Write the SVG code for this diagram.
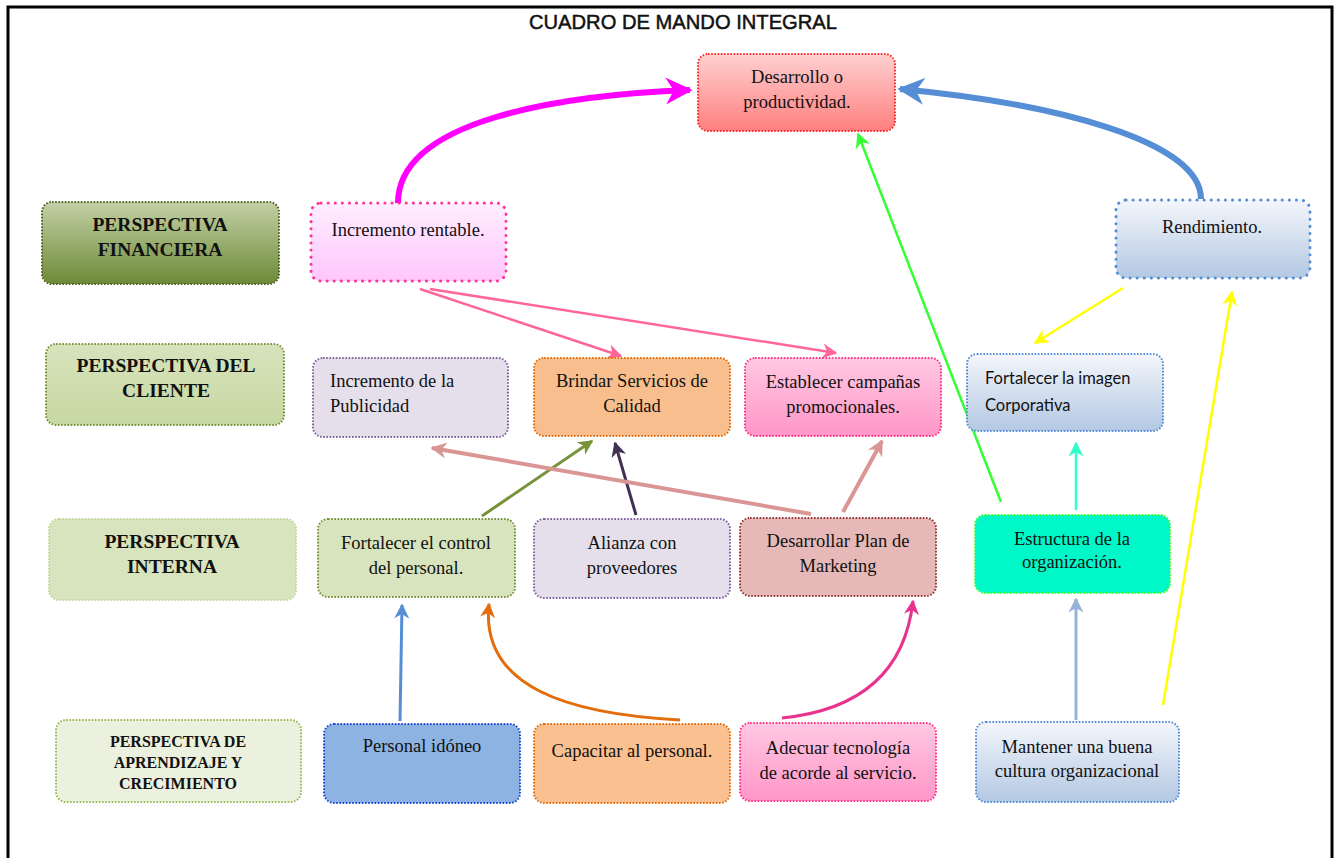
<svg xmlns="http://www.w3.org/2000/svg" width="1341" height="858" viewBox="0 0 1341 858">
<style>
.t{font-family:"Liberation Serif","Times New Roman",serif;font-size:18.5px;fill:#111;text-anchor:middle}
.l{font-family:"Liberation Serif","Times New Roman",serif;font-size:18.5px;fill:#111;text-anchor:start}
.cal{font-family:Lato,"Open Sans",sans-serif;font-size:16.5px;fill:#111;text-anchor:start}
.h{font-family:"Liberation Serif","Times New Roman",serif;font-size:19.5px;font-weight:bold;fill:#111;text-anchor:middle}
.hs{font-family:"Liberation Serif","Times New Roman",serif;font-size:16px;font-weight:bold;fill:#111;text-anchor:middle}
.box{stroke-width:2;stroke-dasharray:1.6 1.6}
.big{stroke-width:3;stroke-dasharray:0.1 7;stroke-linecap:round}
.c{fill:none}
</style>
<defs>
<linearGradient id="gRed" x1="0" y1="0" x2="0" y2="1"><stop offset="0" stop-color="#ffd0d0"/><stop offset="1" stop-color="#ff7f7f"/></linearGradient>
<linearGradient id="gFin" x1="0" y1="0" x2="0" y2="1"><stop offset="0" stop-color="#c3d0a6"/><stop offset="1" stop-color="#6d8a37"/></linearGradient>
<linearGradient id="gPinkL" x1="0" y1="0" x2="0" y2="1"><stop offset="0" stop-color="#ffeeff"/><stop offset="1" stop-color="#ffc6fc"/></linearGradient>
<linearGradient id="gBlue" x1="0" y1="0" x2="0" y2="1"><stop offset="0" stop-color="#f4f6fb"/><stop offset="1" stop-color="#b3c8e3"/></linearGradient>
<linearGradient id="gPink" x1="0" y1="0" x2="0" y2="1"><stop offset="0" stop-color="#ffc8e2"/><stop offset="1" stop-color="#ff96c8"/></linearGradient>
<linearGradient id="gCli" x1="0" y1="0" x2="0" y2="1"><stop offset="0" stop-color="#d7e3bc"/><stop offset="1" stop-color="#c6d8a2"/></linearGradient>
<marker id="mMag" viewBox="0 0 10 10" refX="9" refY="5" markerWidth="4.5" markerHeight="4.5" orient="auto" markerUnits="strokeWidth"><path d="M0,0 L10,5 L0,10 L3,5 z" fill="#ff00ff"/></marker>
<marker id="mBlueT" viewBox="0 0 10 10" refX="9" refY="5" markerWidth="4.5" markerHeight="4.5" orient="auto" markerUnits="strokeWidth"><path d="M0,0 L10,5 L0,10 L3,5 z" fill="#558ed5"/></marker>
<marker id="mGreen" viewBox="0 0 10 10" refX="9" refY="5" markerWidth="6" markerHeight="6" orient="auto" markerUnits="strokeWidth"><path d="M0,0 L10,5 L0,10 L3,5 z" fill="#33ff33"/></marker>
<marker id="mPinkL" viewBox="0 0 10 10" refX="9" refY="5" markerWidth="6" markerHeight="6" orient="auto" markerUnits="strokeWidth"><path d="M0,0 L10,5 L0,10 L3,5 z" fill="#ff6699"/></marker>
<marker id="mYel" viewBox="0 0 10 10" refX="9" refY="5" markerWidth="6" markerHeight="6" orient="auto" markerUnits="strokeWidth"><path d="M0,0 L10,5 L0,10 L3,5 z" fill="#ffff00"/></marker>
<marker id="mCyan" viewBox="0 0 10 10" refX="9" refY="5" markerWidth="6" markerHeight="6" orient="auto" markerUnits="strokeWidth"><path d="M0,0 L10,5 L0,10 L3,5 z" fill="#33ffcc"/></marker>
<marker id="mOl" viewBox="0 0 10 10" refX="9" refY="5" markerWidth="5" markerHeight="5" orient="auto" markerUnits="strokeWidth"><path d="M0,0 L10,5 L0,10 L3,5 z" fill="#77933c"/></marker>
<marker id="mPur" viewBox="0 0 10 10" refX="9" refY="5" markerWidth="5" markerHeight="5" orient="auto" markerUnits="strokeWidth"><path d="M0,0 L10,5 L0,10 L3,5 z" fill="#403152"/></marker>
<marker id="mRos" viewBox="0 0 10 10" refX="9" refY="5" markerWidth="4" markerHeight="4" orient="auto" markerUnits="strokeWidth"><path d="M0,0 L10,5 L0,10 L3,5 z" fill="#d99694"/></marker>
<marker id="mBlue" viewBox="0 0 10 10" refX="9" refY="5" markerWidth="5" markerHeight="5" orient="auto" markerUnits="strokeWidth"><path d="M0,0 L10,5 L0,10 L3,5 z" fill="#558ed5"/></marker>
<marker id="mOr" viewBox="0 0 10 10" refX="9" refY="5" markerWidth="5" markerHeight="5" orient="auto" markerUnits="strokeWidth"><path d="M0,0 L10,5 L0,10 L3,5 z" fill="#e46c0a"/></marker>
<marker id="mMg" viewBox="0 0 10 10" refX="9" refY="5" markerWidth="5" markerHeight="5" orient="auto" markerUnits="strokeWidth"><path d="M0,0 L10,5 L0,10 L3,5 z" fill="#e8338f"/></marker>
<marker id="mLb" viewBox="0 0 10 10" refX="9" refY="5" markerWidth="5" markerHeight="5" orient="auto" markerUnits="strokeWidth"><path d="M0,0 L10,5 L0,10 L3,5 z" fill="#95b3d7"/></marker>
</defs>
<rect x="0" y="0" width="1341" height="858" fill="#fff"/>
<path d="M8,858 V7 H1332 V858" fill="none" stroke="#000" stroke-width="3"/>
<text x="683" y="29" font-family="Liberation Sans,Arial,sans-serif" font-size="21" textLength="308" lengthAdjust="spacingAndGlyphs" text-anchor="middle" fill="#111" stroke="#111" stroke-width="0.5">CUADRO DE MANDO INTEGRAL</text>

<g id="connectors">
<path class="c" d="M398,203 C398,120 560,95 690,90" stroke="#ff00ff" stroke-width="6" marker-end="url(#mMag)"/>
<path class="c" d="M1201,199 C1201,140 1050,103 900,89" stroke="#558ed5" stroke-width="6" marker-end="url(#mBlueT)"/>
<path class="c" d="M1001,502 L858,134" stroke="#33ff33" stroke-width="2.5" marker-end="url(#mGreen)"/>
<path class="c" d="M420,289 L621,356" stroke="#ff6699" stroke-width="2.5" marker-end="url(#mPinkL)"/>
<path class="c" d="M430,289 L836,353" stroke="#ff6699" stroke-width="2.5" marker-end="url(#mPinkL)"/>
<path class="c" d="M1123,288 L1035,343" stroke="#ffff00" stroke-width="2.5" marker-end="url(#mYel)"/>
<path class="c" d="M1163,705 L1232,292" stroke="#ffff00" stroke-width="2.5" marker-end="url(#mYel)"/>
<path class="c" d="M1076,510 L1076,443" stroke="#33ffcc" stroke-width="2.5" marker-end="url(#mCyan)"/>
<path class="c" d="M482,516 L592,441" stroke="#77933c" stroke-width="3" marker-end="url(#mOl)"/>
<path class="c" d="M636,515 L615,443" stroke="#403152" stroke-width="3" marker-end="url(#mPur)"/>
<path class="c" d="M811,514 L432,448" stroke="#d99694" stroke-width="4" marker-end="url(#mRos)"/>
<path class="c" d="M843,512 L882,441" stroke="#d99694" stroke-width="4" marker-end="url(#mRos)"/>
<path class="c" d="M400,721 L402,605" stroke="#558ed5" stroke-width="3" marker-end="url(#mBlue)"/>
<path class="c" d="M680,720 C570,714 480,688 489,604" stroke="#e46c0a" stroke-width="3" marker-end="url(#mOr)"/>
<path class="c" d="M782,718 C860,710 905,672 913,601" stroke="#e8338f" stroke-width="3" marker-end="url(#mMg)"/>
<path class="c" d="M1076,720 L1076,599" stroke="#95b3d7" stroke-width="3" marker-end="url(#mLb)"/>
</g>

<g id="n-desarrollo"><rect class="box" x="698" y="54" width="197" height="77" rx="10" fill="url(#gRed)" stroke="#ff2a2a"/><text class="t" x="797" y="83">Desarrollo o</text><text class="t" x="797" y="108">productividad.</text></g>

<g id="n-pfin"><rect class="box" x="42" y="202" width="237" height="82" rx="10" fill="url(#gFin)" stroke="#4f6228"/><text class="h" x="160" y="231">PERSPECTIVA</text><text class="h" x="160" y="256">FINANCIERA</text></g>
<g id="n-incr"><rect class="big" x="311" y="203" width="195" height="78" rx="10" fill="url(#gPinkL)" stroke="#ff3399"/><text class="t" x="408" y="236">Incremento rentable.</text></g>
<g id="n-rend"><rect class="big" x="1116" y="200" width="194" height="78" rx="10" fill="url(#gBlue)" stroke="#558ed5"/><text class="t" x="1212" y="233">Rendimiento.</text></g>

<g id="n-pcli"><rect class="box" x="46" y="344" width="238" height="81" rx="10" fill="url(#gCli)" stroke="#77933c"/><text class="h" x="166" y="372">PERSPECTIVA DEL</text><text class="h" x="166" y="397">CLIENTE</text></g>
<g id="n-publ"><rect class="box" x="313" y="358" width="195" height="79" rx="10" fill="#e5dfec" stroke="#8064a2"/><text class="l" x="330" y="387">Incremento de la</text><text class="l" x="330" y="412">Publicidad</text></g>
<g id="n-brindar"><rect class="box" x="534" y="358" width="196" height="78" rx="10" fill="#f9be8d" stroke="#e46c0a"/><text class="t" x="632" y="387">Brindar Servicios de</text><text class="t" x="632" y="412">Calidad</text></g>
<g id="n-camp"><rect class="box" x="745" y="358" width="196" height="78" rx="10" fill="url(#gPink)" stroke="#ff3385"/><text class="t" x="843" y="388">Establecer campañas</text><text class="t" x="843" y="413">promocionales.</text></g>
<g id="n-imagen"><rect class="box" x="967" y="354" width="196" height="77" rx="10" fill="url(#gBlue)" stroke="#558ed5"/><text class="cal" x="985" y="384">Fortalecer la imagen</text><text class="cal" x="985" y="411">Corporativa</text></g>

<g id="n-pint"><rect class="box" x="49" y="519" width="247" height="81" rx="10" fill="#d7e4bd" stroke="#c3d69b"/><text class="h" x="172" y="548">PERSPECTIVA</text><text class="h" x="172" y="573">INTERNA</text></g>
<g id="n-control"><rect class="box" x="318" y="519" width="197" height="78" rx="10" fill="#d7e4bd" stroke="#77933c"/><text class="t" x="416" y="549">Fortalecer el control</text><text class="t" x="416" y="574">del personal.</text></g>
<g id="n-alianza"><rect class="box" x="534" y="519" width="196" height="79" rx="10" fill="#e5dfec" stroke="#8064a2"/><text class="t" x="632" y="549">Alianza con</text><text class="t" x="632" y="574">proveedores</text></g>
<g id="n-plan"><rect class="box" x="740" y="518" width="196" height="78" rx="10" fill="#e6b9b8" stroke="#953735"/><text class="t" x="838" y="547">Desarrollar Plan de</text><text class="t" x="838" y="572">Marketing</text></g>
<g id="n-estr"><rect class="box" x="975" y="515" width="195" height="78" rx="10" fill="#00f8c8" stroke="#33ff33"/><text class="t" x="1072" y="545">Estructura de la</text><text class="t" x="1072" y="568">organización.</text></g>

<g id="n-papr"><rect class="box" x="56" y="720" width="245" height="82" rx="10" fill="#ebf1de" stroke="#9bbb59"/><text class="hs" x="178" y="747">PERSPECTIVA DE</text><text class="hs" x="178" y="768">APRENDIZAJE Y</text><text class="hs" x="178" y="789">CRECIMIENTO</text></g>
<g id="n-idoneo"><rect class="box" x="324" y="724" width="196" height="79" rx="10" fill="#8db3e2" stroke="#1f48d0"/><text class="t" x="422" y="752">Personal idóneo</text></g>
<g id="n-capac"><rect class="box" x="534" y="724" width="196" height="79" rx="10" fill="#fac090" stroke="#e46c0a"/><text class="t" x="632" y="757">Capacitar al personal.</text></g>
<g id="n-tecno"><rect class="box" x="740" y="723" width="196" height="78" rx="10" fill="url(#gPink)" stroke="#ff3385"/><text class="t" x="838" y="754">Adecuar tecnología</text><text class="t" x="838" y="779">de acorde al servicio.</text></g>
<g id="n-cultura"><rect class="box" x="976" y="722" width="203" height="80" rx="10" fill="url(#gBlue)" stroke="#558ed5"/><text class="t" x="1077" y="753">Mantener una buena</text><text class="t" x="1077" y="777">cultura organizacional</text></g>
</svg>
